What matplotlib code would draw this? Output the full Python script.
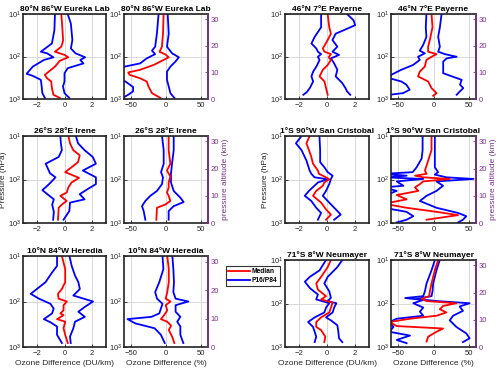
import numpy as np
import matplotlib
matplotlib.use("Agg")
import matplotlib.pyplot as plt

plt.rcParams['font.family'] = ['Liberation Sans', 'DejaVu Sans']

# --- data: (pressure altitude km, value) ---
eureka_du_med = [(32, -0.23), (27, -0.16), (22, -0.1), (19.7, -0.23), (17.8, -0.69), (16.6, 0), (15.7, 0.27),
                 (14.4, -0.34), (12.2, -0.69), (10.3, -1.14), (9.1, -1.42), (7.8, -1.26), (6.6, -0.96),
                 (4.1, -0.91), (1.6, -0.8), (0.4, -0.34)]
eureka_du_p16 = [(32, -0.69), (25.9, -0.73), (20.9, -0.91), (17.8, -1.71), (17.2, -1.26), (15.7, -0.8),
                 (14.7, -1.49), (12.2, -2.29), (9.5, -2.74), (8.7, -2.29), (7.2, -1.71), (4.7, -1.65),
                 (2.2, -1.6), (0.4, -1.42)]
eureka_du_p84 = [(32, 0.23), (28.4, 0.46), (22.2, 0.57), (19, 0.46), (17.2, 0.8), (15.7, 1.49), (14.7, 1.14),
                 (13.4, 1.37), (11.6, 0.23), (9.7, 0), (6.6, 0), (4.7, -0.11), (2.2, 0), (0.4, 0.34)]

eureka_pc_med = [(32, -3.4), (24.6, -4.3), (19.7, -5.8), (17.8, -9.2), (16.8, -1), (15.7, 3.9), (14.7, -3.4),
                 (12.8, -17.9), (11, -37), (10, -54), (9.1, -52), (7.8, -37), (6.6, -27.5), (4.7, -25),
                 (2.2, -20), (0.4, -8)]
eureka_pc_p16 = [(32, -10.6), (24.6, -13), (19.7, -15.5), (18.2, -20), (16.9, -15.5), (15.3, -27.5),
                 (13.4, -37), (12.2, -59), (11, -70), (7.8, -70), (6.6, -58), (4.5, -47), (2.9, -47),
                 (1.6, -54), (0.4, -62)]
eureka_pc_p84 = [(32, 2.4), (24.6, 3.9), (19.7, 1.4), (17.2, 8.7), (15.7, 18.4), (14.1, 13.5), (12.2, 6.3),
                 (10.3, 1.4), (7.2, 1.4), (4.7, 3.9), (2.2, 6.3), (0.4, 12)]

payerne_du_med = [(32, 0.05), (27, 0.16), (24.6, 0.28), (22.2, 0.05), (19, -0.3), (17.8, -0.18), (16.9, 0.28),
                  (15.7, 0.12), (14.7, 0.28), (12.8, 0.05), (11, -0.3), (8.5, -0.53), (6.6, -0.18),
                  (4.1, -0.07), (1.6, 0.05)]
payerne_du_p16 = [(32, -0.42), (27, -0.42), (23.4, -0.88), (20.9, -1.11), (19, -0.76), (17.8, -0.65),
                  (16.9, -0.42), (15.9, -0.65), (14.7, -0.53), (12.2, -0.76), (10.3, -0.99), (8.5, -1.11),
                  (6.6, -0.99), (4.1, -1.23), (2.5, -1.46), (1.6, -1.69)]
payerne_du_p84 = [(32, 1.43), (29.6, 1.9), (27.8, 2.01), (25.9, 1.2), (24.6, 0.62), (22.2, 0.39), (19.7, 0.74),
                  (17.8, 0.39), (16.6, 0.86), (15.3, 0.28), (13.4, 0.51), (11, 0.74), (8.5, 0.62), (6, 1.09),
                  (4.1, 1.32), (2.9, 1.43), (1.6, 1.66)]

payerne_pc_med = [(32, -2.8), (27, -1.4), (22.2, -5.2), (19.7, -7.6), (17.8, -7.6), (16.9, 4.3), (15.9, -2.8),
                  (14.7, -10), (12.2, -12.3), (10.3, -19.4), (8.5, -21.8), (6.6, -7.6), (4.1, -2.8),
                  (2.2, 4.3), (1.2, -0.5)]
payerne_pc_p16 = [(32, -10), (27, -10.9), (23.4, -10), (20.3, -14.7), (18.2, -19.4), (17.2, -12.3),
                  (15.9, -21.8), (14.7, -19.4), (12.8, -28.9), (11, -45.5), (9.1, -59.7), (7.8, -62),
                  (6.6, -45.5), (5.4, -38.4), (3.5, -33.6), (2.2, -43), (1.6, -62)]
payerne_pc_p84 = [(32, 11.4), (27, 9), (23.4, 6.6), (19.7, 9), (17.8, 6.6), (16.9, 16), (15.9, 32.7),
                  (15.3, 18.5), (14.1, 13.7), (12.2, 13.7), (9.7, 13.7), (7.2, 39.8), (5.4, 37.4), (4.1, 42),
                  (2.9, 37.4), (1.6, 32.7)]

irene_du_med = [(32, 0.28), (29.3, 0.4), (26.8, 0.63), (24.9, 1.1), (22.4, 0.98), (20.5, 0.51), (18.7, 0.05),
                (16.6, 1.05), (14.9, 0.51), (13.1, 0.28), (11.2, 0.16), (10, -0.3), (8.1, 0.16), (6.8, -0.19),
                (5.6, -0.42), (1.2, -0.47)]
irene_du_p16 = [(32, -0.3), (29.3, -0.26), (26.8, -0.19), (24.3, -0.42), (21.8, -1.36), (18.3, -1.05),
                (16.8, -0.65), (14.9, -1.0), (13.7, -1.24), (12.1, -1.6), (10.6, -1.24), (8.7, -0.77),
                (6.8, -0.89), (4.1, -0.77), (1.2, -0.82)]
irene_du_p84 = [(32, 0.82), (29.3, 0.98), (26.8, 1.45), (24.3, 2.04), (21.8, 2.27), (19.3, 1.33), (16.8, 2.27),
                (14.3, 2.27), (12.5, 1.68), (10.6, 1.1), (8.7, 1.45), (7.5, 0.4), (4.4, 0.35), (1.2, -0.07)]

irene_pc_med = [(32, 3.8), (26.8, 3.8), (21.8, 6.2), (19.3, 1.4), (17.1, 6.2), (14.9, 3.8), (13.1, 3.8),
                (11.2, 1.4), (10, 3.8), (8.1, 6.2), (6.8, -1), (5.6, -12.9), (1.2, -13.8)]
irene_pc_p16 = [(32, -5.7), (26.8, -3.3), (21.8, -3.3), (18.7, -7.1), (16.8, -4.3), (14.3, -5.7),
                (11.8, -12.9), (10, -22.4), (8.1, -29.5), (6.2, -34.3), (4.4, -31.9), (1.2, -29.5)]
irene_pc_p84 = [(32, 11), (26.8, 11), (21.8, 8.6), (18.1, 7.1), (14.9, 7.1), (11.8, 11), (9.3, 20.5),
                (7.7, 25.2), (6.2, 11), (4.4, 3.8), (1.2, 3.8)]

sancris_du_med = [(32, -1.24), (29.3, -1.47), (26.8, -1.29), (24.3, -1.12), (21.8, -1.0), (19.3, -0.65),
                  (18.1, -0.58), (17.1, -0.19), (16.1, 0.16), (14.9, -0.19), (13.7, -0.3), (11.8, -0.77),
                  (10, -1.0), (7.5, -0.42), (5, -0.07), (3.1, 0.28), (1.2, -0.07)]
sancris_du_p16 = [(32, -1.82), (29.3, -2.22), (26.8, -1.82), (23, -1.47), (19.3, -1.24), (18.1, -1.12),
                  (16.8, -0.89), (16.1, 0.05), (14.9, -0.65), (11.8, -1.29), (10, -1.59), (8.1, -1.12),
                  (5.6, -0.77), (3.7, -0.42), (1.2, -0.65)]
sancris_du_p84 = [(32, -0.54), (26.8, -0.49), (22.4, -0.49), (20.5, -0.19), (18.7, 0.05), (17.4, 0.4),
                  (16.2, 0.28), (14.3, 0.16), (11.8, -0.07), (10, -0.3), (7.5, 0.16), (5, 0.63), (3.1, 0.98),
                  (1.2, 0.51)]

sancris_pc_med = [(32, -2.8), (26.8, -2.8), (23, -7.5), (19.3, -12.1), (18.1, -9.8), (17.4, -26),
                  (16.8, -14.5), (16.2, 22.9), (15.3, -14.5), (14.3, -19.2), (13.1, -26.2), (11.8, -21.5),
                  (10.3, -51.9), (8.7, -37.9), (7.1, -70), (5.6, -37.9), (4.1, 4.2), (2.9, 34.6), (1.2, -9.8)]
sancris_pc_p16 = [(32, -15.4), (26.8, -15.4), (23.7, -16.8), (20.5, -23.8), (18.7, -29.4), (18.1, -70),
                  (17.4, -37.9), (16.8, -70), (16.2, -14.5), (15.3, -51.9), (13.7, -42.5), (13.1, -70),
                  (11.8, -52), (10, -70), (5.6, -70), (4.1, -38), (2.5, -28.5), (1.2, -38), (0.2, -52)]
sancris_pc_p84 = [(32, 1.9), (26.8, 1.9), (23, 1.9), (20.5, 1.9), (18.7, 6.5), (17.8, 1.9), (16.8, 18.2),
                  (16.2, 56.5), (15.3, 4.2), (13.7, 13.5), (11.8, 4.2), (10, -9.8), (8.1, -19.2), (5.6, 4.2),
                  (3.7, 34.6), (2.5, 46.3), (1.2, 41.6), (0.2, 34.6)]

heredia_du_med = [(32, -0.19), (27.4, 0.05), (22.8, 0.05), (20.4, -0.19), (18.7, -0.47), (17, -0.43),
                  (16, 0.17), (14.7, -0.07), (12.9, -0.07), (11.8, -0.3), (11.2, -0.07), (9.8, -0.54),
                  (8.9, 0.05), (6.6, -0.07), (4.3, 0.05), (1.4, 0.24)]
heredia_du_p16 = [(32, -0.54), (28.5, -0.54), (26.2, -0.9), (22.8, -1.37), (18.7, -2.44), (17, -1.85),
                  (15.2, -1.02), (13.5, -0.78), (11.8, -0.9), (9.8, -1.49), (8.7, -1.02), (7.2, -0.54),
                  (4.3, -0.54), (1.4, -0.19)]
heredia_du_p84 = [(32, 0.36), (28.5, 0.52), (25.1, 0.76), (22.8, 1.0), (20.4, 1.11), (18.1, 0.64), (16, 2.06),
                  (14.1, 1.47), (12.4, 1.0), (10.6, 1.47), (8.9, 0.76), (6.6, 0.64), (3.7, 0.4), (1.4, 0.45)]

heredia_pc_med = [(32, 1.8), (27.4, 4), (22.8, 4), (19.3, 1.8), (17, -0.5), (16, 6.4), (14.7, -0.5),
                  (12.9, 1.8), (11.2, -2.7), (9.8, -7.3), (8.9, 1.8), (7.5, 7.3), (6, 4), (3.7, 8.7),
                  (1.4, 11.9)]
heredia_pc_p16 = [(32, -5), (27.4, -3.7), (22.8, -9.6), (19.3, -15.5), (17, -12.8), (15.2, -5), (13.5, -7.3),
                  (11.8, -9.6), (10.6, -21), (9.8, -55), (8.3, -43.8), (6.6, -16.4), (4.3, -7.3), (1.4, -1.8)]
heredia_pc_p84 = [(32, 9.1), (27.4, 10.5), (22.8, 11.4), (19.3, 10.5), (17, 13.7), (16, 31.9), (14.7, 13.7),
                  (12.4, 13.7), (10.6, 20.5), (8.9, 16), (7.2, 20.5), (4.3, 20.5), (1.4, 24.7)]

neumayer_du_med = [(32, 0.28), (29.4, 0.05), (25.8, -0.42), (23.4, -0.77), (21.1, -0.65), (18.7, -0.07),
                   (17.5, -0.42), (16.3, 0.4), (14.5, 0.28), (12.7, 0.16), (10.9, -0.42), (9.2, -0.77),
                   (7.4, -0.77), (6.2, -0.42), (3.8, -0.12), (1.8, -0.19)]
neumayer_du_p16 = [(32, -0.07), (28.2, -0.53), (25.8, -1.23), (24, -1.58), (21.7, -1.23), (19.3, -0.65),
                   (17.5, -0.77), (16.1, 0.16), (14.5, -0.07), (12.7, -0.19), (10.9, -0.88), (9.2, -1.35),
                   (7.4, -1.0), (5.6, -0.88), (3.8, -0.77), (1.8, -0.88)]
neumayer_du_p84 = [(32, 1.09), (29.4, 0.74), (25.8, 0.05), (23.4, -0.19), (20.5, 0.16), (18.1, 0.28),
                   (16.9, 0.05), (16.1, 0.67), (14.5, 0.51), (12.7, 0.4), (10.9, -0.07), (9.8, 0.28), (8, 0.74),
                   (5.6, 0.81), (3.2, 0.86), (1.8, 1.09)]

neumayer_pc_med = [(32, 6.5), (28.2, 1.9), (23.4, -2.8), (20.5, -5.1), (18.7, -6.1), (17.7, -16.8),
                   (16.9, -9.8), (16.1, 32.2), (15.1, 13.5), (13.9, 8.9), (12.7, 18.2), (11.5, 4.2),
                   (10.4, -33.2), (9.2, -62), (7.7, -52), (6.8, 13.5), (5.6, 4.2), (3.8, -7.5), (2, -9.8)]
neumayer_pc_p16 = [(32, 1.9), (28.2, -2.8), (23.4, -9.8), (20.5, -12.1), (18.7, -14.5), (18, -40),
                   (17.3, -14.5), (16.1, -28.5), (14.5, -14.5), (13, -19.2), (11.5, -14.5), (10.4, -51.9),
                   (9.2, -62), (7.4, -56.5), (5.6, -62), (4.2, -33.2), (2.6, -51.9), (1.4, -37.9)]
neumayer_pc_p84 = [(32, 8.9), (28.2, 4.2), (23.4, -0.5), (20.5, -1.4), (18.7, -2.8), (17.7, -23.8),
                   (16.9, 4.2), (16.1, 51), (14.9, 36.9), (13.3, 41.6), (11.5, 27.6), (9.8, 22.9), (7.4, 32.2),
                   (5, 46.3), (3.2, 51), (1.8, 41.6)]

titles = ["80°N 86°W Eureka Lab", "46°N 7°E Payerne", "26°S 28°E Irene",
          "1°S 90°W San Cristobal", "10°N 84°W Heredia", "71°S 8°W Neumayer"]
stations = [
    (eureka_du_med, eureka_du_p16, eureka_du_p84, eureka_pc_med, eureka_pc_p16, eureka_pc_p84),
    (payerne_du_med, payerne_du_p16, payerne_du_p84, payerne_pc_med, payerne_pc_p16, payerne_pc_p84),
    (irene_du_med, irene_du_p16, irene_du_p84, irene_pc_med, irene_pc_p16, irene_pc_p84),
    (sancris_du_med, sancris_du_p16, sancris_du_p84, sancris_pc_med, sancris_pc_p16, sancris_pc_p84),
    (heredia_du_med, heredia_du_p16, heredia_du_p84, heredia_pc_med, heredia_pc_p16, heredia_pc_p84),
    (neumayer_du_med, neumayer_du_p16, neumayer_du_p84, neumayer_pc_med, neumayer_pc_p16, neumayer_pc_p84),
]

W, H = 500, 375
PURPLE = '#7E2F8E'
TXT = '#262626'

# pixel boxes (x0, x1) per panel column, (ytop, ybot) per station
cols = [[(23, 106), (124, 208)], [(285, 369), (391, 476)]]
rows = [[(14, 99), (14, 99)], [(136, 223), (136, 223)], [(256, 347), (260, 347)]]


def to_p(z):
    # pressure altitude (km) -> pressure (hPa)
    return 1000 * 10 ** (-np.asarray(z) / 16.0)


def box(x0, x1, yt, yb):
    return [x0 / W, 1 - yb / H, (x1 - x0) / W, (yb - yt) / H]


fig = plt.figure(figsize=(5, 3.75), dpi=100)

for i, st in enumerate(stations):
    r, c = i // 2, i % 2
    yt, yb = rows[r][c]
    for k in range(2):
        x0, x1 = cols[c][k]
        ax = fig.add_axes(box(x0, x1, yt, yb))
        for prof, colr in [(st[3 * k + 1], 'b'), (st[3 * k + 2], 'b'), (st[3 * k], 'r')]:
            z = [q[0] for q in prof]
            v = [q[1] for q in prof]
            ax.plot(v, to_p(z), color=colr, lw=1.3)
        ax.set_yscale('log')
        ax.set_ylim(1000, 10)
        ax.set_yticks([10, 100, 1000])
        ax.yaxis.set_minor_locator(matplotlib.ticker.NullLocator())
        if k == 0:
            ax.set_xlim(-3, 3)
            ax.set_xticks([-2, 0, 2])
        else:
            ax.set_xlim(-60, 60)
            ax.set_xticks([-50, 0, 50])
        ax.grid(True, color='0.85', lw=0.7)
        ax.set_axisbelow(True)
        ax.tick_params(direction='in', labelsize=5.5, colors=TXT, length=2, width=0.6, pad=2)
        ax.tick_params(axis='y', pad=1.5)
        for s in ax.spines.values():
            s.set_linewidth(1.2)
            s.set_color('#222222')
        ax.set_title(titles[i], fontsize=6, fontweight='bold', pad=2)
        if r == 2:
            ax.set_xlabel("Ozone Difference (DU/km)" if k == 0 else "Ozone Difference (%)",
                          fontsize=6, color=TXT, labelpad=2)
        if r == 1 and k == 0:
            fig.text((x0 - 19.5) / W, 1 - (yt + yb) / 2 / H, "Pressure (hPa)", rotation=90,
                     fontsize=6, color=TXT, ha='center', va='center')
        if k == 1:
            ax2 = ax.twinx()
            ax2.set_ylim(0, 32)
            ax2.set_yticks([0, 10, 20, 30])
            ax2.tick_params(direction='in', labelsize=5.5, colors=PURPLE, length=2, width=0.6, pad=2)
            ax2.spines['right'].set_color(PURPLE)
            ax2.spines['right'].set_linewidth(1.2)
            for s in ['left', 'top', 'bottom']:
                ax2.spines[s].set_visible(False)
            if r == 1:
                ax2.set_ylabel("pressure altitude (km)", fontsize=6, color=PURPLE, labelpad=2)

# legend
lax = fig.add_axes([0, 0, 1, 1], frameon=False)
lax.set_axis_off()
h1, = lax.plot([], [], color='r', lw=1.3, label='Median')
h2, = lax.plot([], [], color='b', lw=1.3, label='P16/P84')
leg = fig.legend(handles=[h1, h2], loc='upper left', bbox_to_anchor=(226 / W, 1 - 266 / H),
                 fontsize=4.8, frameon=True, fancybox=False, edgecolor='black', handlelength=3.2,
                 borderpad=0.35, labelspacing=0.25, handletextpad=0.3, borderaxespad=0)
leg.get_frame().set_linewidth(0.8)
for t in leg.get_texts():
    t.set_fontweight('bold')

fig.savefig("out.png", dpi=100)
